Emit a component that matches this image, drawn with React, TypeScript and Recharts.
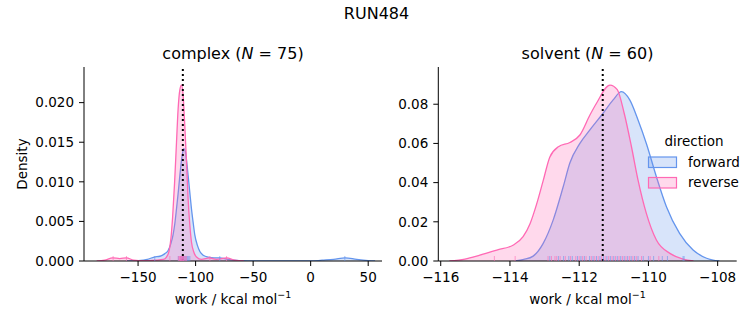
import React from "react";
import { ComposedChart, Area, XAxis, YAxis, ReferenceLine, ReferenceDot } from "recharts";

// ---- data ----
const complexForward: [number, number][] = [
  [-160, 0], [-150, 0.00005], [-142, 0.0002], [-136, 0.0005], [-131, 0.0006], [-127, 0.0009],
  [-124, 0.0013], [-121.5, 0.0022], [-119.6, 0.0033], [-118, 0.0048], [-116.6, 0.0066],
  [-115, 0.0088], [-113.7, 0.0108], [-112, 0.013], [-110.3, 0.0142], [-109, 0.0139],
  [-107.8, 0.0126], [-106.5, 0.0108], [-105, 0.0086], [-103.6, 0.0066], [-102, 0.0047],
  [-100.7, 0.0033], [-98.5, 0.002], [-96.3, 0.0012], [-93, 0.0007], [-89, 0.0005],
  [-84, 0.0004], [-79, 0.0004], [-72, 0.0002], [-62, 0.00005], [-45, 0], [0, 0],
  [10, 0.0001], [20, 0.0002], [30, 0.0004], [40, 0.0002], [50, 0.00005], [56, 0],
];
const complexReverse: [number, number][] = [
  [-186, 0], [-179, 0.0001], [-172, 0.0004], [-166, 0.0003], [-160, 0.0004], [-154, 0.0001],
  [-145, 0.00003], [-135, 0.0001], [-128, 0.0002], [-125.3, 0.0005], [-123, 0.0013],
  [-121.5, 0.0028], [-120, 0.0055], [-118.3, 0.0098], [-116.6, 0.015], [-115.2, 0.0192],
  [-113.7, 0.0216], [-112.3, 0.0222], [-111, 0.0212], [-109.4, 0.0171], [-107.9, 0.0125],
  [-106.5, 0.0078], [-105, 0.0045], [-103.6, 0.0024], [-101.5, 0.0011], [-99.2, 0.0005],
  [-95, 0.0002], [-88, 0.0004], [-82, 0.0002], [-73, 0.0004], [-66, 0.0001], [-58, 0],
];
const solventForward: [number, number][] = [
  [-113.85, 0], [-113.6, 0.0008], [-113.33, 0.0025], [-113.04, 0.009], [-112.75, 0.021],
  [-112.46, 0.038], [-112.27, 0.05], [-111.98, 0.06], [-111.69, 0.0669], [-111.31, 0.0754],
  [-111.02, 0.0822], [-110.78, 0.0864], [-110.54, 0.0822], [-110.3, 0.072], [-110.06, 0.06],
  [-109.77, 0.043], [-109.48, 0.0277], [-109.1, 0.0141], [-108.71, 0.0056], [-108.32, 0.0014],
  [-107.95, 0],
];
const solventReverse: [number, number][] = [
  [-115.75, 0], [-115.3, 0.001], [-114.87, 0.003], [-114.38, 0.0056], [-113.9, 0.0082],
  [-113.62, 0.0124], [-113.42, 0.019], [-113.23, 0.029], [-113.04, 0.041], [-112.85, 0.053],
  [-112.6, 0.0583], [-112.27, 0.0605], [-111.98, 0.0643], [-111.69, 0.0745], [-111.5, 0.0805],
  [-111.11, 0.0898], [-110.9, 0.0875], [-110.7, 0.0754], [-110.49, 0.0583], [-110.3, 0.0413],
  [-110.06, 0.0243], [-109.77, 0.0107], [-109.38, 0.0039], [-109.0, 0.001], [-108.7, 0],
];
const complexForwardRug = [-135.5, -115, -113, -112, -111.5, -111, -110.5, -110, -109, -108, -107, -106, -105, -79, 29.7];
const complexReverseRug = [-171.7, -160.1, -122.4, -115, -114, -113.5, -113, -112.5, -112, -111.5, -111, -110.5, -110, -109, -108, -87.6, -73.1];
const solventForwardRug = [
  -112.85, -112.6, -112.45, -112.3, -112.2, -112.05, -111.95, -111.85, -111.7, -111.6, -111.5,
  -111.4, -111.3, -111.2, -111.1, -111.0, -110.9, -110.8, -110.7, -110.6, -110.5, -110.4,
  -110.3, -110.15, -110.0, -109.85, -109.6, -109.45, -109.0, -108.97,
];
const solventReverseRug = [
  -114.45, -113.85, -112.9, -112.8, -112.7, -112.65, -112.55, -112.4, -112.25, -112.1, -112.0,
  -111.9, -111.8, -111.65, -111.55, -111.45, -111.35, -111.25, -111.15, -111.05, -110.95,
  -110.85, -110.75, -110.65, -110.55, -110.45, -110.35, -110.2, -109.95, -109.7,
];
const complexMean = -111.1;
const solventMean = -111.32;
const complexXTicks = [-150, -100, -50, 0, 50];
const complexYTicks = [0, 0.005, 0.01, 0.015, 0.02];
const solventXTicks = [-116, -114, -112, -110, -108];
const solventYTicks = [0, 0.02, 0.04, 0.06, 0.08];
const directions = ["forward", "reverse"];

const BLUE = "#6495ED";
const PINK = "#FF69B4";
const FONT = "DejaVu Sans, sans-serif";

function merge(fwd: [number, number][], rev: [number, number][]) {
  const m = new Map<number, any>();
  for (const [x, y] of fwd) m.set(x, { ...(m.get(x) || { x }), fwd: y });
  for (const [x, y] of rev) m.set(x, { ...(m.get(x) || { x }), rev: y });
  return Array.from(m.values()).sort((a, b) => a.x - b.x);
}

const fmtNum = (d: number) => (v: number) => {
  const s = v.toFixed(d);
  return s.startsWith("-") ? "\u2212" + s.slice(1) : s;
};

const rugShape = (color: string) => (p: any) => (
  <line x1={p.cx} y1={p.cy} x2={p.cx} y2={p.cy - 5} stroke={color} strokeWidth={1} strokeOpacity={0.6} />
);

const tickStyle = { fill: "#000", fontSize: 13.5, fontFamily: FONT };

function Panel(props: {
  fwd: [number, number][]; rev: [number, number][]; fRug: number[]; rRug: number[];
  mean: number; xDomain: [number, number]; yDomain: [number, number];
  xTicks: number[]; yTicks: number[]; xDec: number; yDec: number;
  width: number; margin: any; yWidth: number;
}) {
  const data = merge(props.fwd, props.rev);
  return (
    <ComposedChart width={props.width} height={325} data={data} margin={props.margin}>
      <XAxis
        type="number" dataKey="x" domain={props.xDomain} ticks={props.xTicks} allowDataOverflow
        tickFormatter={fmtNum(props.xDec)} tick={tickStyle} tickSize={5} tickMargin={6}
        axisLine={{ stroke: "#000", strokeWidth: 1 }} tickLine={{ stroke: "#000" }} height={30}
      />
      <YAxis
        type="number" domain={props.yDomain} ticks={props.yTicks} allowDataOverflow
        tickFormatter={fmtNum(props.yDec)} tick={tickStyle} tickSize={5} tickMargin={5}
        axisLine={{ stroke: "#000", strokeWidth: 1 }} tickLine={{ stroke: "#000" }} width={props.yWidth}
      />
      <Area dataKey="fwd" type="monotone" connectNulls stroke={BLUE} strokeWidth={1.3} fill={BLUE}
        fillOpacity={0.25} dot={false} activeDot={false} isAnimationActive={false} />
      <Area dataKey="rev" type="monotone" connectNulls stroke={PINK} strokeWidth={1.3} fill={PINK}
        fillOpacity={0.25} dot={false} activeDot={false} isAnimationActive={false} />
      {props.fRug.map((v, i) => (
        <ReferenceDot key={"f" + i} x={v} y={0} shape={rugShape(BLUE)} />
      ))}
      {props.rRug.map((v, i) => (
        <ReferenceDot key={"r" + i} x={v} y={0} shape={rugShape(PINK)} />
      ))}
      <ReferenceLine x={props.mean} stroke="#000" strokeWidth={2} strokeDasharray="2 3" />
    </ComposedChart>
  );
}

export default function App() {
  return (
    <div style={{ position: "absolute", left: 0, top: 0, width: 753, height: 325, background: "#fff" }}>
      <div style={{ position: "absolute", left: 0, top: 0 }}>
        <Panel fwd={complexForward} rev={complexReverse} fRug={complexForwardRug} rRug={complexReverseRug}
          mean={complexMean} xDomain={[-197, 62]} yDomain={[0, 0.0245]} xTicks={complexXTicks}
          yTicks={complexYTicks} xDec={0} yDec={3} width={400} yWidth={60}
          margin={{ left: 24, right: 18, top: 67, bottom: 34 }} />
      </div>
      <div style={{ position: "absolute", left: 380, top: 0 }}>
        <Panel fwd={solventForward} rev={solventReverse} fRug={solventForwardRug} rRug={solventReverseRug}
          mean={solventMean} xDomain={[-116.07, -107.45]} yDomain={[0, 0.099]} xTicks={solventXTicks}
          yTicks={solventYTicks} xDec={0} yDec={2} width={373} yWidth={50}
          margin={{ left: 8.3, right: 16.3, top: 67, bottom: 34 }} />
      </div>
      <svg width={753} height={325} style={{ position: "absolute", left: 0, top: 0, pointerEvents: "none" }}
        fontFamily={FONT}>
        <text x={376.5} y={19} textAnchor="middle" fontSize={16}>RUN484</text>
        <text x={233} y={59} textAnchor="middle" fontSize={16}>
          complex (<tspan fontStyle="italic">N</tspan> = 75)
        </text>
        <text x={587.5} y={59} textAnchor="middle" fontSize={16}>
          solvent (<tspan fontStyle="italic">N</tspan> = 60)
        </text>
        <text x={27} y={164} textAnchor="middle" fontSize={13.5} transform="rotate(-90, 27, 164)">Density</text>
        <text x={233} y={304} textAnchor="middle" fontSize={13.5}>
          work / kcal mol<tspan fontSize={9.5} dy={-6}>{"\u22121"}</tspan>
        </text>
        <text x={587.5} y={304} textAnchor="middle" fontSize={13.5}>
          work / kcal mol<tspan fontSize={9.5} dy={-6}>{"\u22121"}</tspan>
        </text>
        <text x={694} y={146} textAnchor="middle" fontSize={13.5}>direction</text>
        <rect x={648.5} y={157} width={28} height={10.5} fill={BLUE} fillOpacity={0.25} stroke={BLUE} strokeWidth={1.2} />
        <rect x={648.5} y={177.5} width={28} height={10.5} fill={PINK} fillOpacity={0.25} stroke={PINK} strokeWidth={1.2} />
        <text x={688} y={166.5} fontSize={13.5}>{directions[0]}</text>
        <text x={688} y={187} fontSize={13.5}>{directions[1]}</text>
      </svg>
    </div>
  );
}
